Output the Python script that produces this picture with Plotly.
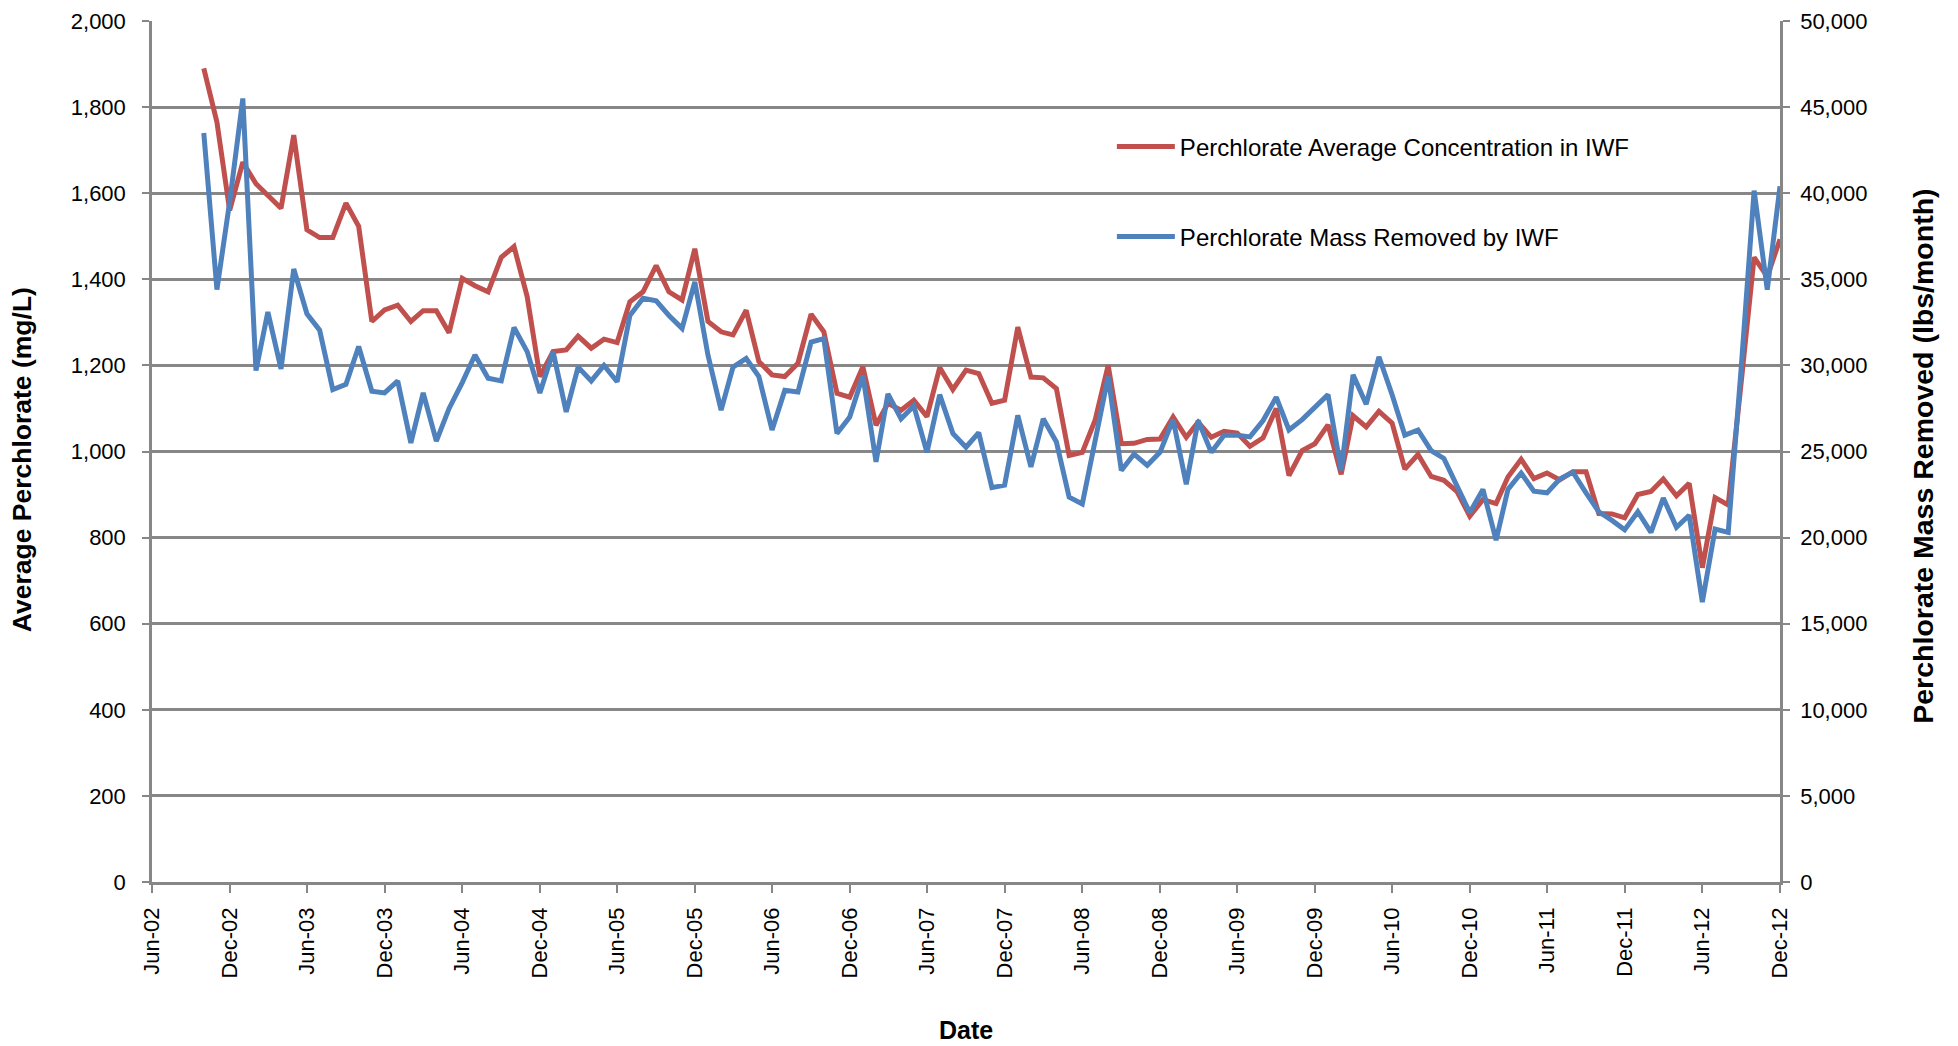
import pandas as pd
import plotly.graph_objects as go

# Monthly readings, Oct-2002 .. Dec-2012
months = pd.date_range("2002-10-01", "2012-12-01", freq="MS")

# Perchlorate average concentration in IWF (mg/L)
concentration = [
    1890, 1765, 1560,
    1672, 1622, 1595, 1565, 1735, 1515, 1497, 1497, 1577, 1523, 1302, 1329,
    1340, 1302, 1327, 1327, 1276, 1402, 1385, 1371, 1451, 1476, 1360, 1174,
    1232, 1236, 1268, 1240, 1261, 1253, 1348, 1371, 1432, 1371, 1352, 1471,
    1302, 1278, 1271, 1328, 1209, 1178, 1174, 1205, 1319, 1278, 1135, 1126,
    1197, 1061, 1112, 1096, 1119, 1081, 1195, 1144, 1189, 1181, 1112, 1119,
    1289, 1173, 1171, 1146, 991, 998, 1072, 1200, 1018, 1019, 1028, 1029,
    1080, 1033, 1068, 1033, 1047, 1043, 1012, 1032, 1100, 944, 1002, 1018,
    1062, 947, 1083, 1057, 1093, 1066, 959, 993, 942, 933, 907, 850,
    888, 879, 941, 982, 937, 950, 934, 953, 953, 856, 855, 846,
    900, 907, 936, 897, 926, 730, 893, 876, 1165, 1451, 1406, 1493,
]

# Perchlorate mass removed by IWF (lbs/month)
mass_removed = [
    43500, 34400, 39500,
    45500, 29700, 33100, 29800, 35600, 33000, 32050, 28600, 28900, 31100, 28500, 28400,
    29100, 25500, 28400, 25600, 27500, 29000, 30600, 29250, 29100, 32200, 30800, 28400,
    30800, 27300, 29900, 29100, 30000, 29050, 32900, 33900, 33750, 32900, 32150, 34850,
    30600, 27400, 29900, 30400, 29350, 26250, 28550, 28450, 31350, 31550, 26050, 27000,
    29400, 24400, 28350, 26900, 27650, 24950, 28300, 26050, 25250, 26100, 22900, 23050,
    27100, 24100, 26900, 25550, 22350, 21950, 25650, 29350, 23900, 24850, 24200, 24950,
    26850, 23100, 26800, 24950, 25950, 25950, 25850, 26800, 28150, 26250, 26850, 27600,
    28300, 23900, 29450, 27750, 30500, 28300, 25950, 26250, 25050, 24600, 23050, 21450,
    22800, 19850, 22800, 23750, 22700, 22600, 23400, 23800, 22600, 21500, 21000, 20450,
    21500, 20300, 22300, 20600, 21300, 16250, 20500, 20300, 30000, 40150, 34400, 40400,
]

# x tick positions / labels (every 6 months)
tick_dates = pd.date_range("2002-06-01", "2012-12-01", freq="6MS")
tick_labels = [d.strftime("%b-%y") for d in tick_dates]

FONT = "Arial, Liberation Sans, sans-serif"
GRID = "#878787"
RED = "#C0504D"
BLUE = "#4F81BD"

fig = go.Figure()
fig.add_trace(go.Scatter(
    x=months, y=concentration, mode="lines",
    name="Perchlorate Average Concentration in IWF",
    line=dict(color=RED, width=5), legendgroup="a",
))
fig.add_trace(go.Scatter(
    x=months, y=mass_removed, mode="lines", yaxis="y2",
    name="Perchlorate Mass Removed by IWF",
    line=dict(color=BLUE, width=5), legendgroup="b",
))

# page body has an 8px margin, so the figure is 8px smaller than the window
fig.update_layout(
    width=1950, height=1038, autosize=False,
    margin=dict(l=144, r=178, t=13, b=164),
    paper_bgcolor="white", plot_bgcolor="white",
    font=dict(family=FONT, size=22, color="black"),
    xaxis=dict(
        type="date", range=["2002-06-01", "2012-12-01"],
        tickvals=tick_dates, ticktext=tick_labels, tickangle=-90,
        showgrid=False, showline=True, linecolor=GRID, linewidth=2.5,
        ticks="outside", ticklen=8, tickwidth=2, tickcolor=GRID,
        ticklabelstandoff=6, automargin=False,
    ),
    yaxis=dict(
        range=[0, 2000], dtick=200, tickformat=",",
        showgrid=True, gridcolor=GRID, gridwidth=2.5,
        showline=True, linecolor=GRID, linewidth=2.5,
        ticks="outside", ticklen=7, tickwidth=2, tickcolor=GRID,
        ticklabelstandoff=12, zeroline=False, automargin=False,
    ),
    yaxis2=dict(
        range=[0, 50000], dtick=5000, tickformat=",",
        overlaying="y", side="right", showgrid=False,
        showline=True, linecolor=GRID, linewidth=2.5,
        ticks="outside", ticklen=7, tickwidth=2, tickcolor=GRID,
        ticklabelstandoff=6, zeroline=False, automargin=False,
    ),
    legend=dict(
        x=0.5896, y=0.88, xanchor="left", yanchor="top",
        bgcolor="rgba(0,0,0,0)", font=dict(size=24),
        traceorder="grouped", tracegroupgap=56, itemwidth=58,
    ),
    annotations=[
        dict(text="<b>Average Perchlorate (mg/L)</b>", xref="paper", yref="paper",
             x=-0.0799, y=0.491, textangle=-90, showarrow=False,
             xanchor="center", yanchor="middle", font=dict(size=26.5)),
        dict(text="<b>Perchlorate Mass Removed (lbs/month)</b>", xref="paper", yref="paper",
             x=1.0878, y=0.495, textangle=-90, showarrow=False,
             xanchor="center", yanchor="middle", font=dict(size=28.5)),
        dict(text="<b>Date</b>", xref="paper", yref="paper",
             x=0.5, y=-0.172, showarrow=False,
             xanchor="center", yanchor="middle", font=dict(size=25)),
    ],
)

fig.write_html("out.html")
